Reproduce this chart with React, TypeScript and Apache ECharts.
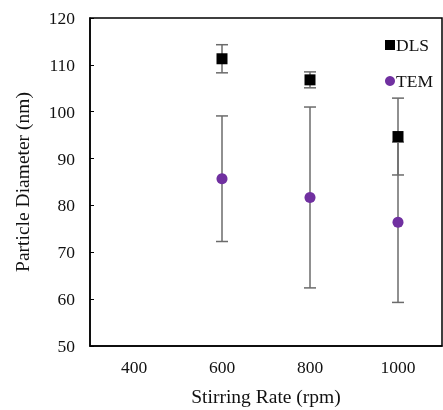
import React, { useEffect, useRef } from "react";
import * as echarts from "echarts";

const rates = [600, 800, 1000];
const dlsMean = [111.3, 106.8, 94.7];
const dlsErr = [3.0, 1.7, 8.2];
const temMean = [85.7, 81.7, 76.4];
const temErr = [13.4, 19.3, 17.1];
const xTickLabels = [400, 600, 800, 1000];
const yTicks = { min: 50, max: 120, interval: 10 };
const xRange = { min: 300, max: 1100, interval: 100 };

const FONT = "Liberation Serif";

export default function App() {
  const ref = useRef<HTMLDivElement>(null);
  useEffect(() => {
    if (!ref.current) return;
    const chart = echarts.init(ref.current, null, { renderer: "svg" });
    const errData = (means: number[], errs: number[]) =>
      rates.map((r, i) => [r, means[i] - errs[i], means[i] + errs[i]]);
    const renderErr = (params: any, api: any) => {
      const x = api.value(0);
      const lo = api.coord([x, api.value(1)]);
      const hi = api.coord([x, api.value(2)]);
      const cap = 6;
      const style = { stroke: "#6b6b6b", lineWidth: 1.5 };
      return {
        type: "group",
        children: [
          { type: "line", shape: { x1: lo[0], y1: lo[1], x2: hi[0], y2: hi[1] }, style },
          { type: "line", shape: { x1: lo[0] - cap, y1: lo[1], x2: lo[0] + cap, y2: lo[1] }, style },
          { type: "line", shape: { x1: hi[0] - cap, y1: hi[1], x2: hi[0] + cap, y2: hi[1] }, style },
        ],
      };
    };
    chart.setOption({
      animation: false,
      textStyle: { fontFamily: FONT },
      grid: {
        left: 90,
        top: 18,
        width: 352,
        height: 328,
        show: true,
        borderColor: "#000",
        borderWidth: 1.5,
        containLabel: false,
        outerBoundsMode: "none",
      },
      legend: {
        orient: "vertical",
        left: 380,
        top: 31,
        itemWidth: 10,
        itemHeight: 10,
        itemGap: 18,
        textStyle: { fontFamily: FONT, fontSize: 17.5, color: "#111", padding: [2, 0, 0, -4] },
        data: [
          { name: "DLS", icon: "rect" },
          { name: "TEM", icon: "circle" },
        ],
      },
      xAxis: {
        type: "value",
        min: xRange.min,
        max: xRange.max,
        interval: xRange.interval,
        name: "Stirring Rate (rpm)",
        nameLocation: "middle",
        nameGap: 40,
        nameTextStyle: { fontFamily: FONT, fontSize: 19.5, color: "#111" },
        axisLine: { show: true, lineStyle: { color: "#000", width: 1.5 } },
        axisTick: { show: false },
        splitLine: { show: false },
        axisLabel: {
          fontFamily: FONT,
          fontSize: 17.5,
          color: "#111",
          margin: 12,
          showMinLabel: true,
          showMaxLabel: true,
          formatter: (v: number) => (xTickLabels.includes(v) ? String(v) : ""),
        },
      },
      yAxis: {
        type: "value",
        min: yTicks.min,
        max: yTicks.max,
        interval: yTicks.interval,
        name: "Particle Diameter (nm)",
        nameLocation: "middle",
        nameGap: 58,
        nameTextStyle: { fontFamily: FONT, fontSize: 19.5, color: "#111" },
        axisLine: { show: true, lineStyle: { color: "#000", width: 1.5 } },
        axisTick: { show: true, inside: true, length: 4, lineStyle: { color: "#000", width: 1 } },
        splitLine: { show: false },
        axisLabel: { fontFamily: FONT, fontSize: 17.5, color: "#111", margin: 15 },
      },
      series: [
        {
          type: "custom",
          name: "DLS err",
          renderItem: renderErr,
          data: errData(dlsMean, dlsErr),
          encode: { x: 0, y: [1, 2] },
          z: 1,
        },
        {
          type: "custom",
          name: "TEM err",
          renderItem: renderErr,
          data: errData(temMean, temErr),
          encode: { x: 0, y: [1, 2] },
          z: 1,
        },
        {
          type: "scatter",
          name: "DLS",
          symbol: "rect",
          symbolSize: 11,
          itemStyle: { color: "#000", opacity: 1 },
          data: rates.map((r, i) => [r, dlsMean[i]]),
          z: 3,
        },
        {
          type: "scatter",
          name: "TEM",
          symbol: "circle",
          symbolSize: 11,
          itemStyle: { color: "#7030A0", opacity: 1 },
          data: rates.map((r, i) => [r, temMean[i]]),
          z: 3,
        },
      ],
    });
    return () => chart.dispose();
  }, []);
  return <div ref={ref} style={{ position: "fixed", left: 0, top: 0, width: 443, height: 410 }} />;
}
